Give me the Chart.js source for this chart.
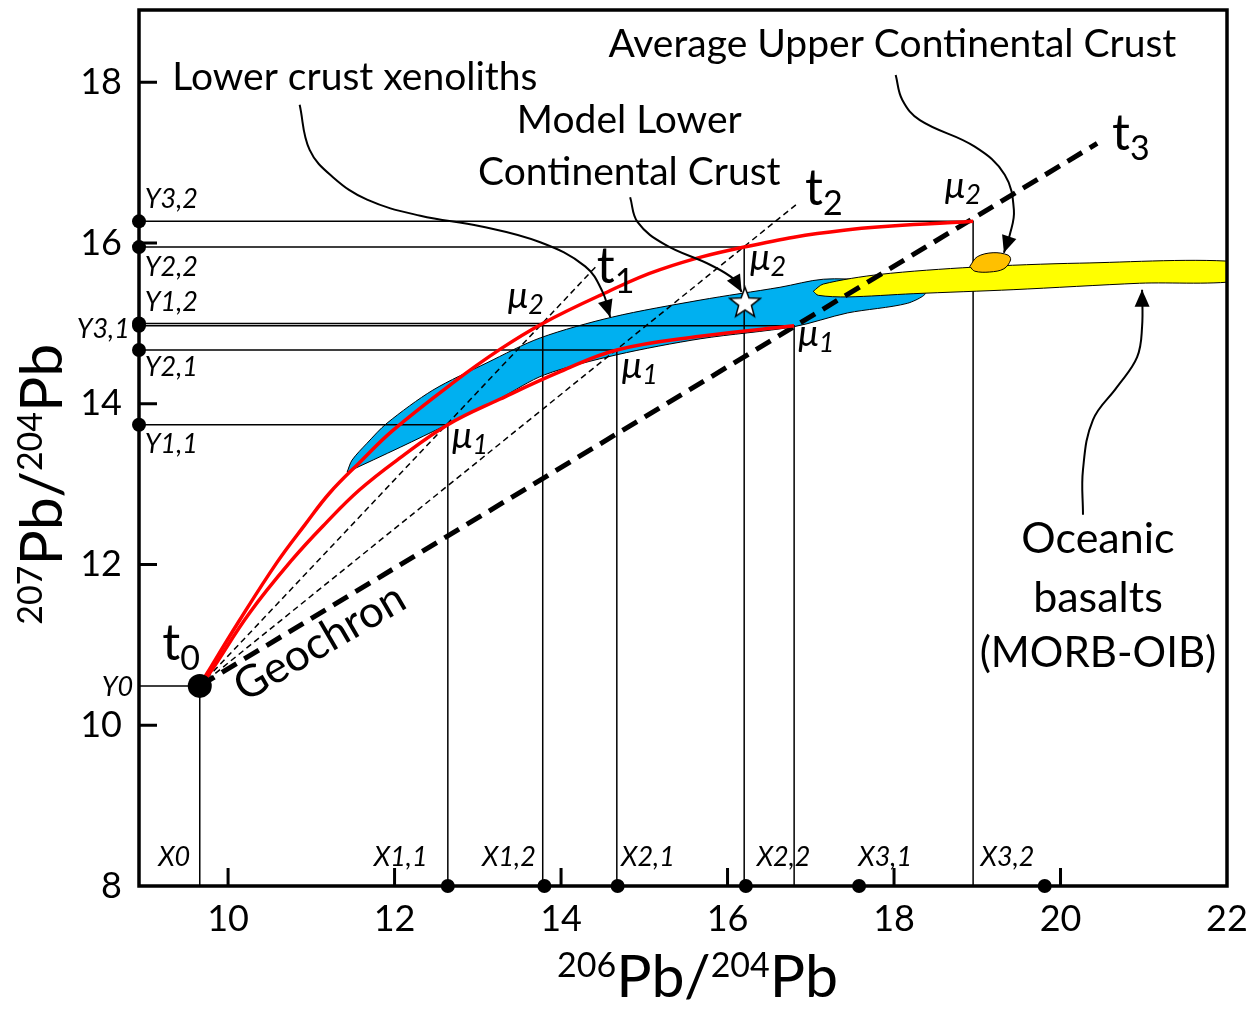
<!doctype html>
<html>
<head>
<meta charset="utf-8">
<title>Pb isotope evolution</title>
<script src="https://cdn.jsdelivr.net/npm/chart.js@4.4.1/dist/chart.umd.min.js"></script>
<style>
  html,body{margin:0;padding:0;background:#fff;}
  canvas{display:block;}
</style>
</head>
<body>
<canvas id="pb" width="1258" height="1014"></canvas>
<script>
// ---- axes ----
const xRange = [8.93, 22];
const yRange = [8, 18.9];
const xTicks = [10, 12, 14, 16, 18, 20, 22];
const yTicks = [8, 10, 12, 14, 16, 18];

// ---- primordial lead (t0) and isochron end points ----
const t0 = [9.66, 10.49];
const t1End = [14.44, 15.73];
const t2End = [16.85, 16.50];
const t3End = [20.44, 17.24];   // geochron

// ---- growth curves ----
const mu2X = [9.66, 9.75, 10.14, 10.59, 10.92, 11.22, 11.59, 11.98, 12.70, 13.27, 13.78, 14.47, 15.19, 16.20, 17.40, 18.95];
const mu2Y = [10.49, 10.65, 11.31, 12.03, 12.49, 12.89, 13.28, 13.67, 14.26, 14.68, 15.00, 15.35, 15.67, 15.95, 16.16, 16.27];
const mu1X = [9.66, 9.78, 10.26, 10.77, 11.16, 11.58, 12.07, 12.64, 13.27, 13.99, 14.67, 15.67, 16.80];
const mu1Y = [10.49, 10.65, 11.40, 12.06, 12.50, 12.93, 13.33, 13.74, 14.06, 14.40, 14.67, 14.84, 14.97];

// ---- projected points: X0, X1,1, X1,2, X2,1, X2,2, X3,1, X3,2 ----
const refX = [9.66, 12.64, 13.78, 14.67, 16.20, 16.80, 18.95];
const refY = [10.49, 13.74, 15.00, 14.67, 15.95, 14.97, 16.27];
const xAxisDots = [12.64, 13.80, 14.68, 16.22, 17.58, 19.81];
const yAxisDots = [16.27, 15.95, 15.00, 14.97, 14.67, 13.74];

// ---- fields ----
const blueX = [11.43, 11.49, 11.67, 11.91, 12.46, 13.11, 13.75, 14.62, 15.67, 16.63, 17.15, 17.71, 18.37, 18.16, 17.44, 16.80, 15.68, 14.67, 13.80, 13.27, 12.63, 12.07, 11.43];
const blueY = [13.15, 13.30, 13.51, 13.76, 14.17, 14.51, 14.82, 15.08, 15.29, 15.45, 15.55, 15.53, 15.38, 15.25, 15.13, 14.96, 14.81, 14.61, 14.36, 14.07, 13.74, 13.46, 13.15];
const yellowX = [17.03, 17.15, 17.83, 18.95, 20.23, 22.2, 22.2, 20.95, 19.43, 18.23, 17.44, 17.09, 17.03];
const yellowY = [15.40, 15.49, 15.61, 15.70, 15.75, 15.76, 15.54, 15.50, 15.42, 15.37, 15.33, 15.35, 15.40];
const orangeX = [18.91, 19.00, 19.19, 19.37, 19.40, 19.32, 19.15, 18.97, 18.91];
const orangeY = [15.71, 15.83, 15.88, 15.85, 15.79, 15.68, 15.64, 15.65, 15.71];
const lccPoint = [16.21, 15.25];

// ---- callout arrows ----
const a1X = [10.86, 10.98, 11.26, 11.67, 12.31, 13.03, 13.75, 14.29, 14.50, 14.59];
const a1Y = [17.72, 17.16, 16.82, 16.54, 16.34, 16.21, 16.01, 15.71, 15.39, 15.08];
const a2X = [14.83, 14.92, 15.25, 15.79, 16.09, 16.17];
const a2Y = [16.57, 16.26, 15.98, 15.73, 15.54, 15.39];
const a3X = [18.02, 18.10, 18.31, 18.97, 19.33, 19.44, 19.39, 19.32];
const a3Y = [18.09, 17.78, 17.53, 17.20, 16.85, 16.41, 16.10, 15.88];
const a4X = [20.27, 20.27, 20.39, 20.68, 20.92, 20.98, 20.98];
const a4Y = [12.62, 13.18, 13.80, 14.21, 14.58, 14.96, 15.42];

const FAMILY = 'Lato, "Open Sans", sans-serif';

// text annotations: [text, size, dy, italic] parts anchored at data coords
const notes = [
  { x: 9.33, y: 17.90, parts: [['Lower crust xenoliths', 39]] },
  { x: 14.82, y: 17.37, align: 'center', parts: [['Model Lower', 39]] },
  { x: 14.82, y: 16.72, align: 'center', parts: [['Continental Crust', 39]] },
  { x: 17.98, y: 18.31, align: 'center', parts: [['Average Upper Continental Crust', 39]] },
  { x: 20.45, y: 12.14, align: 'center', parts: [['Oceanic', 43]] },
  { x: 20.45, y: 11.41, align: 'center', parts: [['basalts', 43]] },
  { x: 20.45, y: 10.72, align: 'center', parts: [['(MORB-OIB)', 42]] },
  { x: 9.21, y: 10.81, parts: [['t', 50], ['0', 34, 10]] },
  { x: 14.43, y: 15.50, parts: [['t', 50], ['1', 34, 10]] },
  { x: 16.93, y: 16.47, parts: [['t', 50], ['2', 34, 10]] },
  { x: 20.62, y: 17.16, parts: [['t', 50], ['3', 34, 10]] },
  { x: 13.36, y: 15.19, parts: [['μ', 37, 0, true], ['2', 27, 6, true]] },
  { x: 12.69, y: 13.45, parts: [['μ', 37, 0, true], ['1', 27, 6, true]] },
  { x: 14.73, y: 14.32, parts: [['μ', 37, 0, true], ['1', 27, 6, true]] },
  { x: 16.27, y: 15.66, parts: [['μ', 37, 0, true], ['2', 27, 6, true]] },
  { x: 16.85, y: 14.72, parts: [['μ', 37, 0, true], ['1', 27, 6, true]] },
  { x: 18.61, y: 16.56, parts: [['μ', 37, 0, true], ['2', 27, 6, true]] },
  { x: 9.00, y: 16.44, parts: [['Y3,2', 27, 0, true]] },
  { x: 9.00, y: 15.59, parts: [['Y2,2', 27, 0, true]] },
  { x: 9.00, y: 15.15, parts: [['Y1,2', 27, 0, true]] },
  { x: 8.82, y: 14.82, align: 'right', parts: [['Y3,1', 27, 0, true]] },
  { x: 9.00, y: 14.35, parts: [['Y2,1', 27, 0, true]] },
  { x: 9.00, y: 13.39, parts: [['Y1,1', 27, 0, true]] },
  { x: 8.86, y: 10.36, align: 'right', parts: [['Y0', 27, 0, true]] },
  { x: 9.16, y: 8.25, parts: [['X0', 27, 0, true]] },
  { x: 11.75, y: 8.25, parts: [['X1,1', 27, 0, true]] },
  { x: 13.05, y: 8.25, parts: [['X1,2', 27, 0, true]] },
  { x: 14.72, y: 8.25, parts: [['X2,1', 27, 0, true]] },
  { x: 16.35, y: 8.25, parts: [['X2,2', 27, 0, true]] },
  { x: 17.57, y: 8.25, parts: [['X3,1', 27, 0, true]] },
  { x: 19.04, y: 8.25, parts: [['X3,2', 27, 0, true]] }
];

function drawParts(ctx, parts, x, y, align) {
  let w = 0;
  const m = parts.map(([t, size, dy = 0, it = false]) => {
    const font = (it ? 'italic ' : '') + size + 'px ' + FAMILY;
    ctx.font = font;
    const pw = ctx.measureText(t).width;
    w += pw;
    return { t, font, dy, pw };
  });
  let cx = align === 'center' ? x - w / 2 : align === 'right' ? x - w : x;
  ctx.textAlign = 'left';
  ctx.textBaseline = 'alphabetic';
  m.forEach(p => { ctx.font = p.font; ctx.fillText(p.t, cx, y + p.dy); cx += p.pw; });
}

function makeStar(r) {
  const c = document.createElement('canvas');
  const s = Math.ceil(r * 2 + 4);
  c.width = c.height = s;
  const g = c.getContext('2d');
  g.beginPath();
  for (let i = 0; i < 10; i++) {
    const a = -Math.PI / 2 + i * Math.PI / 5;
    const rr = i % 2 ? r * 0.42 : r;
    g.lineTo(s / 2 + rr * Math.cos(a), s / 2 + rr * Math.sin(a));
  }
  g.closePath();
  g.fillStyle = '#fff'; g.fill();
  g.lineWidth = 1.5; g.strokeStyle = '#000'; g.stroke();
  return c;
}

const pts = (xs, ys) => xs.map((x, i) => ({ x, y: ys[i] }));
const line = (data, o) => Object.assign({ data, showLine: true, pointRadius: 0, fill: false, tension: 0 }, o);

const datasets = [];
// fields
datasets.push(line(pts(blueX, blueY), { fill: 'shape', backgroundColor: '#00B0F0', borderColor: '#000', borderWidth: 1, tension: 0.3, order: 20 }));
refX.forEach((vx, i) => {
  datasets.push(line([{ x: xRange[0], y: refY[i] }, { x: vx, y: refY[i] }, { x: vx, y: yRange[0] }],
    { borderColor: '#000', borderWidth: 1.5, order: 19 }));
});
datasets.push(line(pts(yellowX, yellowY), { fill: 'shape', backgroundColor: '#FFFF00', borderColor: '#000', borderWidth: 1, tension: 0.3, order: 18 }));
datasets.push(line(pts(orangeX, orangeY), { fill: 'shape', backgroundColor: '#FFC000', borderColor: '#000', borderWidth: 1, tension: 0.35, order: 17 }));
// isochrons
[t1End, t2End].forEach(e => {
  datasets.push(line([{ x: t0[0], y: t0[1] }, { x: e[0], y: e[1] }], { borderColor: '#000', borderWidth: 1.5, borderDash: [6, 4], order: 16 }));
});
datasets.push(line([{ x: t0[0], y: t0[1] }, { x: t3End[0], y: t3End[1] }], { borderColor: '#000', borderWidth: 5, borderDash: [17, 9], order: 15 }));
// growth curves
datasets.push(line(pts(mu2X, mu2Y), { borderColor: '#FF0000', borderWidth: 3.5, tension: 0.4, order: 14 }));
datasets.push(line(pts(mu1X, mu1Y), { borderColor: '#FF0000', borderWidth: 3.5, tension: 0.4, order: 14 }));
// callouts
[[a1X, a1Y], [a2X, a2Y], [a3X, a3Y], [a4X, a4Y]].forEach(([xs, ys]) => {
  datasets.push(line(pts(xs, ys), { borderColor: '#000', borderWidth: 2, tension: 0.4, order: 13, arrow: true }));
});
// dots on axes
datasets.push({ data: xAxisDots.map(x => ({ x, y: yRange[0] })), pointRadius: 7, backgroundColor: '#000', borderWidth: 0, clip: false, order: 12 });
datasets.push({ data: yAxisDots.map(y => ({ x: xRange[0], y })), pointRadius: 7, backgroundColor: '#000', borderWidth: 0, clip: false, order: 12 });
// model lower crust star
datasets.push({ data: [{ x: lccPoint[0], y: lccPoint[1] }], pointStyle: makeStar(16), pointRadius: 16, order: 11 });
// t0
datasets.push({ data: [{ x: t0[0], y: t0[1] }], pointRadius: 12, backgroundColor: '#000', borderWidth: 0, order: 10 });

const decor = {
  id: 'decor',
  afterDatasetsDraw(chart) {
    const { ctx, chartArea: a, scales: { x, y } } = chart;
    ctx.save();
    // arrowheads
    chart.data.datasets.forEach((ds, i) => {
      if (!ds.arrow) return;
      const el = chart.getDatasetMeta(i).data;
      const p = el[el.length - 1], q = el[el.length - 2];
      let dx = p.x - (p.cp1x ?? q.x), dy = p.y - (p.cp1y ?? q.y);
      if (Math.hypot(dx, dy) < 0.5) { dx = p.x - q.x; dy = p.y - q.y; }
      const ang = Math.atan2(dy, dx);
      ctx.save();
      ctx.translate(p.x, p.y);
      ctx.rotate(ang);
      ctx.beginPath();
      ctx.moveTo(0, 0); ctx.lineTo(-17, -7.5); ctx.lineTo(-17, 7.5); ctx.closePath();
      ctx.fillStyle = '#000'; ctx.fill();
      ctx.restore();
    });
    // frame
    ctx.lineWidth = 3.5; ctx.strokeStyle = '#000';
    ctx.strokeRect(a.left, a.top, a.right - a.left, a.bottom - a.top);
    // inward tick marks
    ctx.lineWidth = 3;
    ctx.beginPath();
    xTicks.filter(v => v < xRange[1]).forEach(v => {
      const px = x.getPixelForValue(v);
      ctx.moveTo(px, a.bottom); ctx.lineTo(px, a.bottom - 18);
    });
    yTicks.filter(v => v > yRange[0]).forEach(v => {
      const py = y.getPixelForValue(v);
      ctx.moveTo(a.left, py); ctx.lineTo(a.left + 18, py);
    });
    ctx.stroke();
    ctx.restore();
  },
  afterDraw(chart) {
    const { ctx, chartArea: a, scales: { x, y } } = chart;
    ctx.save();
    ctx.fillStyle = '#000';
    notes.forEach(n => drawParts(ctx, n.parts, x.getPixelForValue(n.x), y.getPixelForValue(n.y), n.align));
    // rotated Geochron label along the geochron
    const gx0 = x.getPixelForValue(t0[0]), gy0 = y.getPixelForValue(t0[1]);
    const gx1 = x.getPixelForValue(t3End[0]), gy1 = y.getPixelForValue(t3End[1]);
    ctx.save();
    ctx.translate(x.getPixelForValue(10.20), y.getPixelForValue(10.28));
    ctx.rotate(Math.atan2(gy1 - gy0, gx1 - gx0) + 0.015);
    drawParts(ctx, [['Geochron', 44]], 0, 0);
    ctx.restore();
    // axis titles
    drawParts(ctx, [['206', 34, -20], ['Pb/', 59], ['204', 34, -20], ['Pb', 59]], x.getPixelForValue(15.64), a.bottom + 111, 'center');
    ctx.save();
    ctx.translate(a.left - 77, y.getPixelForValue(13.0));
    ctx.rotate(-Math.PI / 2);
    drawParts(ctx, [['207', 34, -20], ['Pb/', 59], ['204', 34, -20], ['Pb', 59]], 0, 0, 'center');
    ctx.restore();
    ctx.restore();
  }
};

function build() {
  new Chart(document.getElementById('pb'), {
    type: 'scatter',
    data: { datasets },
    plugins: [decor],
    options: {
      responsive: false,
      animation: false,
      devicePixelRatio: 1,
      events: [],
      layout: { autoPadding: false, padding: { top: 10, right: 31, left: 0, bottom: 0 } },
      plugins: { legend: { display: false }, tooltip: { enabled: false } },
      scales: {
        x: {
          type: 'linear', min: xRange[0], max: xRange[1],
          afterBuildTicks: s => { s.ticks = xTicks.map(v => ({ value: v })); },
          afterFit: s => { s.height = 128; s.paddingLeft = 0; s.paddingRight = 0; },
          grid: { display: false, drawTicks: false }, border: { display: false },
          ticks: { color: '#000', font: { family: FAMILY, size: 36 }, padding: 12 }
        },
        y: {
          type: 'linear', min: yRange[0], max: yRange[1],
          afterBuildTicks: s => { s.ticks = yTicks.map(v => ({ value: v })); },
          afterFit: s => { s.width = 139; s.paddingTop = 0; s.paddingBottom = 0; },
          grid: { display: false, drawTicks: false }, border: { display: false },
          ticks: { color: '#000', font: { family: FAMILY, size: 36 }, padding: 17 }
        }
      }
    }
  });
}

Promise.all([
  document.fonts.load('36px Lato'),
  document.fonts.load('italic 36px Lato')
]).then(build, build);
</script>
</body>
</html>
